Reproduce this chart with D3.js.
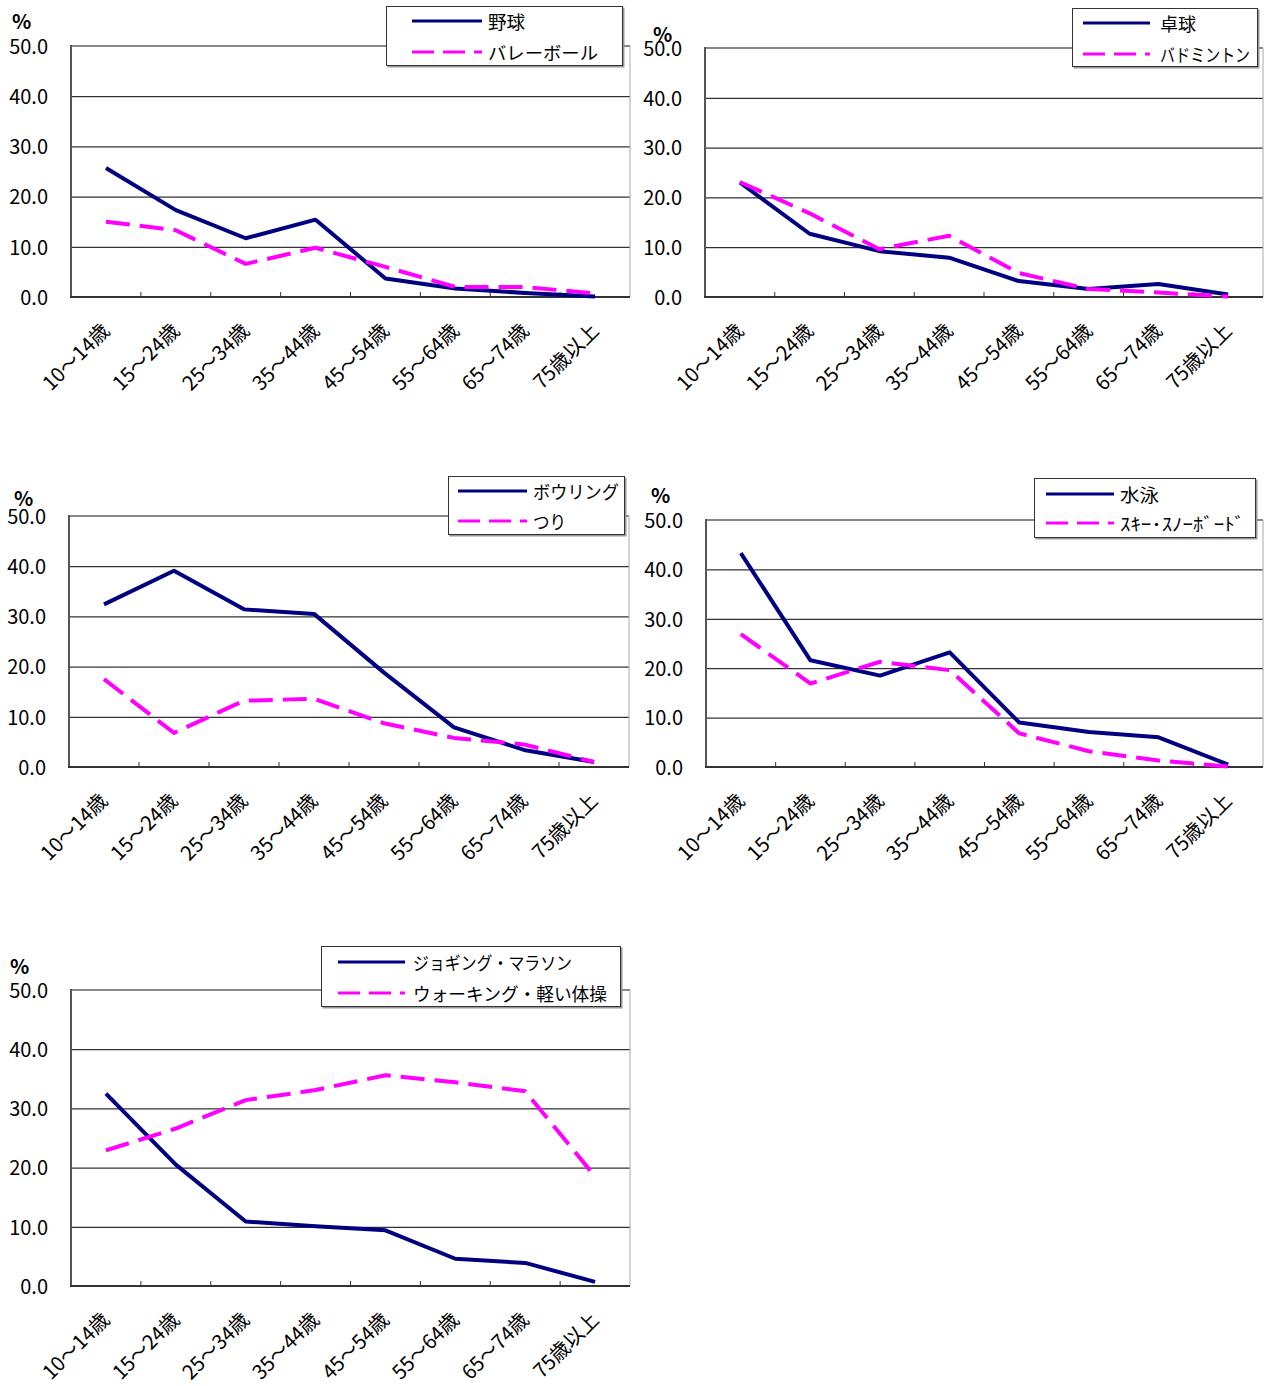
<!DOCTYPE html>
<html>
<head>
<meta charset="utf-8">
<script src="https://cdn.jsdelivr.net/npm/d3@7"></script>
<style>
  body { margin: 0; background: #fff; }
  text { font-family: "Noto Sans CJK JP", "Noto Sans", sans-serif; fill: #000; }
</style>
</head>
<body>
<div id="chart"></div>
<script>
// age groups (x categories)
const ages = ["10～14歳", "15～24歳", "25～34歳", "35～44歳", "45～54歳", "55～64歳", "65～74歳", "75歳以上"];
const yTicks = [0, 10, 20, 30, 40, 50];

// series values (%)
const yakyu      = [25.7, 17.3, 11.7, 15.4, 3.7, 1.7, 0.8, 0.1];
const volley     = [15.0, 13.3, 6.6, 9.8, 6.0, 2.0, 2.0, 0.7];
const takkyu     = [23.0, 12.7, 9.2, 7.9, 3.2, 1.6, 2.6, 0.5];
const badminton  = [23.1, 16.8, 9.6, 12.3, 4.8, 1.6, 0.9, 0.1];
const bowling    = [32.4, 39.1, 31.4, 30.5, 18.8, 7.9, 3.4, 1.0];
const tsuri      = [17.5, 6.8, 13.2, 13.6, 8.7, 5.8, 4.5, 1.0];
const suiei      = [43.3, 21.6, 18.5, 23.2, 9.0, 7.1, 6.0, 0.5];
const ski        = [26.9, 16.9, 21.3, 19.6, 6.8, 3.2, 1.3, 0.1];
const jogging    = [32.5, 20.5, 10.9, 10.1, 9.4, 4.6, 3.9, 0.7];
const walking    = [22.9, 26.6, 31.4, 33.1, 35.6, 34.4, 32.9, 18.5];

// layout of the five small charts (legend text widths follow the original)
const panels = [
  {names: ["野球", "バレーボール"], series: [yakyu, volley],
   box: {l: 71, t: 46, r: 630, b: 297}, pct: {x: 12, y: 29},
   legend: {x: 386, y: 6, w: 237, h: 60, l1: 26, l2: 96, tx: 102, r1: 15, r2: 46, tw: [37, 110]}},
  {names: ["卓球", "バドミントン"], series: [takkyu, badminton],
   box: {l: 705, t: 48, r: 1263, b: 297}, pct: {x: 653, y: 42},
   legend: {x: 1072, y: 8, w: 186, h: 59, l1: 11, l2: 78, tx: 88, r1: 15, r2: 46, tw: [36, 90]}},
  {names: ["ボウリング", "つり"], series: [bowling, tsuri],
   box: {l: 69, t: 516, r: 629, b: 767}, pct: {x: 14, y: 506},
   legend: {x: 448, y: 476, w: 177, h: 59, l1: 10, l2: 79, tx: 85, r1: 15, r2: 45, tw: [86, 33]}},
  {names: ["水泳", "ｽｷｰ･ｽﾉｰﾎﾞｰﾄﾞ"], series: [suiei, ski],
   box: {l: 706, t: 520, r: 1263, b: 767}, pct: {x: 651, y: 503},
   legend: {x: 1034, y: 478, w: 222, h: 60, l1: 12, l2: 80, tx: 86, r1: 16, r2: 45, tw: [39, 125]}},
  {names: ["ジョギング・マラソン", "ウォーキング・軽い体操"], series: [jogging, walking],
   box: {l: 71, t: 990, r: 630, b: 1286}, pct: {x: 10, y: 974},
   legend: {x: 321, y: 946, w: 300, h: 61, l1: 17, l2: 84, tx: 92, r1: 16, r2: 47, tw: [159, 194]}}
];

const colors = ["#000080", "#ff00ff"];
const dashes = [null, "24,10"];

const svg = d3.select("#chart").append("svg")
    .attr("width", 1269)
    .attr("height", 1386);

panels.forEach(p => {
  const b = p.box;
  const g = svg.append("g");

  const x = d3.scaleBand().domain(ages).range([b.l, b.r]);
  const y = d3.scaleLinear().domain([0, 50]).range([b.b, b.t]);

  // gridlines
  g.append("g")
      .attr("transform", `translate(${b.l},0)`)
      .call(d3.axisLeft(y).tickValues(yTicks.slice(1, 5)).tickSize(-(b.r - b.l)).tickFormat(""))
      .call(s => s.select(".domain").remove())
      .selectAll("line").attr("stroke", "#000").attr("stroke-width", 1);

  // plot frame
  g.append("line").attr("x1", b.l).attr("x2", b.r).attr("y1", b.t).attr("y2", b.t)
      .attr("stroke", "#888").attr("stroke-width", 2);
  g.append("line").attr("x1", b.r).attr("x2", b.r).attr("y1", b.t).attr("y2", b.b)
      .attr("stroke", "#aaa").attr("stroke-width", 1);
  g.append("line").attr("x1", b.l).attr("x2", b.l).attr("y1", b.t - 1).attr("y2", b.b)
      .attr("stroke", "#555").attr("stroke-width", 2);

  // y labels
  g.append("g")
      .attr("transform", `translate(${b.l - 20},0)`)
      .call(d3.axisLeft(y).tickValues(yTicks).tickSize(0).tickFormat(d3.format(".1f")))
      .call(s => s.select(".domain").remove())
      .selectAll("text")
      .style("font-size", "20px")
      .attr("dy", "0.36em");

  // x axis: inner ticks between categories
  g.selectAll(".xtick")
      .data(ages.slice(1))
      .join("line")
      .attr("x1", d => x(d)).attr("x2", d => x(d))
      .attr("y1", b.b).attr("y2", b.b - 5)
      .attr("stroke", "#333");
  g.append("line").attr("x1", b.l - 1).attr("x2", b.r).attr("y1", b.b).attr("y2", b.b)
      .attr("stroke", "#333").attr("stroke-width", 2);

  // x labels
  g.selectAll(".xlab")
      .data(ages)
      .join("text")
      .attr("transform", d => `translate(${x(d) + x.bandwidth() / 2 + 5},${b.b + 35}) rotate(-45)`)
      .attr("text-anchor", "end")
      .style("font-size", "20px")
      .text(d => d);

  // lines
  const line = d3.line()
      .x((d, i) => x(ages[i]) + x.bandwidth() / 2)
      .y(d => y(d));
  p.series.forEach((s, k) => {
    g.append("path")
        .attr("d", line(s))
        .attr("fill", "none")
        .attr("stroke", colors[k])
        .attr("stroke-width", 4)
        .attr("stroke-linejoin", "round")
        .attr("stroke-dasharray", dashes[k]);
  });

  // % label
  g.append("text")
      .attr("x", p.pct.x).attr("y", p.pct.y)
      .style("font-size", "20px")
      .style("font-weight", "bold")
      .text("%");

  // legend
  const L = p.legend;
  const lg = g.append("g").attr("transform", `translate(${L.x},${L.y})`);
  lg.append("rect").attr("x", 1.5).attr("y", 1.5).attr("width", L.w).attr("height", L.h)
      .attr("fill", "#999");
  lg.append("rect").attr("x", 0.5).attr("y", 0.5).attr("width", L.w - 1).attr("height", L.h - 1)
      .attr("fill", "#fff").attr("stroke", "#333").attr("stroke-width", 1);
  [L.r1, L.r2].forEach((ry, k) => {
    lg.append("line")
        .attr("x1", L.l1).attr("x2", L.l2).attr("y1", ry).attr("y2", ry)
        .attr("stroke", colors[k]).attr("stroke-width", 3)
        .attr("stroke-dasharray", k ? "22,9" : null);
    lg.append("text")
        .attr("x", L.tx).attr("y", ry + 2).attr("dy", "0.36em")
        .attr("textLength", L.tw[k])
        .attr("lengthAdjust", "spacingAndGlyphs")
        .style("font-size", "18px")
        .text(p.names[k]);
  });
});
</script>
</body>
</html>
